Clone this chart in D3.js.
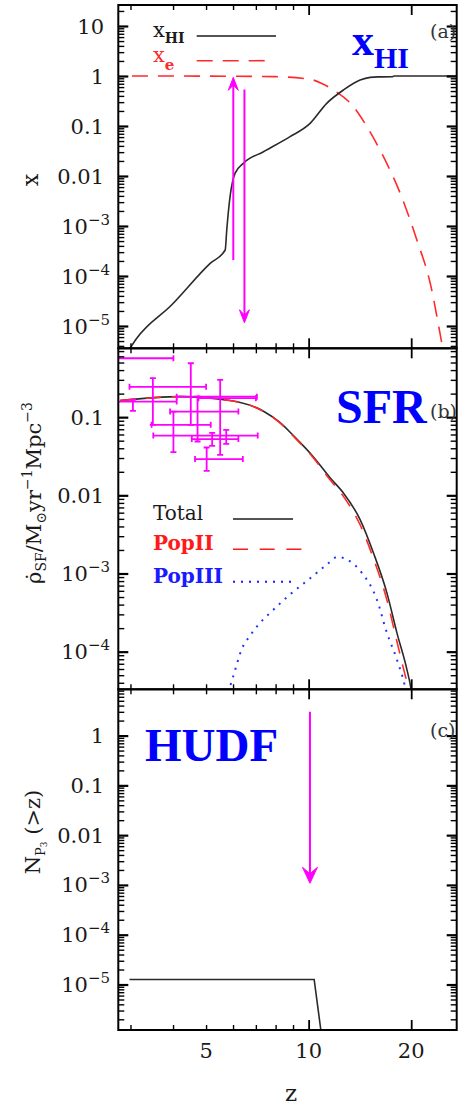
<!DOCTYPE html>
<html><head><meta charset="utf-8">
<script src="https://cdn.jsdelivr.net/npm/d3@7"></script>
<style>body{margin:0;background:#fff}svg{display:block}</style>
</head><body>
<svg id="chart" width="461" height="1105"></svg>
<script>
// ---------- shared x axis (redshift z, log) ----------
const zDomain = [2.763, 27.2];
const zMajorTicks = [10, 20];
const zMinorTicks = [3, 4, 5, 6, 7, 8, 9];
const zTickLabels = ["5", "10", "20"];
const zTickLabelValues = [5, 10, 20];

// ---------- panel (a): neutral fraction / ionized fraction ----------
const aDomain = [3.58e-6, 26.3];
const aTickValues = [10, 1, 0.1, 0.01, 1e-3, 1e-4, 1e-5];
const aTickLabels = ["10", "1", "0.1", "0.01", "10^−3", "10^−4", "10^−5"];
const xhiZ   = [2.99, 3.13, 3.96, 5.14, 5.69, 5.75, 5.88, 6.08, 6.43, 7.37, 8.82, 10.1, 11.3, 12.65, 14.16, 15.16, 16.0, 17.6, 17.8, 27.2];
const xhiVal = [3.58e-6, 5.68e-6, 2.63e-5, 1.79e-4, 3.31e-4, 8.3e-4, 3.85e-3, 0.0113, 0.0179, 0.0306, 0.0611, 0.113, 0.284, 0.525, 0.83, 0.94, 0.96, 0.965, 1.0, 1.0];
const xeZ   = [3.03, 6.0, 8.0, 10.1, 10.93, 11.83, 13.54, 14.83, 16.58, 18.57, 20.78, 22.75, 24.3, 25.3];
const xeVal = [1.0, 0.99, 0.97, 0.86, 0.71, 0.525, 0.243, 0.0968, 0.0243, 4.5e-3, 5.25e-4, 7.1e-5, 7.1e-6, 1.5e-6];
const aArrowZ    = [6.01, 6.48];
const aArrowFrom = [2.09e-4, 0.54];
const aArrowTo   = [0.94, 1.16e-5];

// ---------- panel (b): star formation rate density ----------
const bDomain = [3.3e-5, 0.76];
const bTickValues = [0.1, 0.01, 1e-3, 1e-4];
const bTickLabels = ["0.1", "0.01", "10^−3", "10^−4"];
const totalZ   = [2.795, 4.19, 5.88, 7.35, 8.25, 9.02, 10.33, 11.56, 12.65, 14.16, 15.5, 16.97, 18.16, 19.43, 19.96, 20.3];
const totalVal = [0.163, 0.183, 0.163, 0.12, 0.085, 0.058, 0.031, 0.0168, 0.0107, 0.0049, 1.83e-3, 5.65e-4, 1.74e-4, 5.9e-5, 3.4e-5, 2.0e-5];
const popIIZ   = [2.795, 4.19, 5.88, 7.35, 8.25, 9.02, 10.33, 11.56, 12.65, 14.16, 15.5, 16.97, 18.16, 19.2, 19.7, 20.1];
const popIIVal = [0.163, 0.183, 0.163, 0.119, 0.084, 0.057, 0.030, 0.0158, 0.0097, 0.0042, 1.55e-3, 4.6e-4, 1.35e-4, 5.0e-5, 3.3e-5, 2.0e-5];
const popIIIZ   = [5.8, 5.88, 6.01, 6.36, 6.73, 7.2, 7.71, 8.93, 10.0, 11.31, 12.15, 12.95, 14.33, 15.86, 16.97, 18.16, 19.2, 19.5];
const popIIIVal = [3.0e-5, 3.6e-5, 4.86e-5, 1.07e-4, 1.6e-4, 2.34e-4, 3.14e-4, 5.65e-4, 8.36e-4, 1.3e-3, 1.63e-3, 1.51e-3, 1.02e-3, 4.64e-4, 1.74e-4, 7.9e-5, 3.5e-5, 2.5e-5];
// observed SFR points with error bars
const obsZ    = [2.5, 3.49, 4.51, 3.05, 5.50, 4.72, 4.01, 5.73, 5.21, 5.02];
const obsZLo  = [2.0, 2.98, 4.10, 2.70, 4.75, 3.92, 3.46, 3.50, 4.54, 4.64];
const obsZHi  = [4.01, 5.0, 7.05, 4.10, 7.0, 6.22, 5.16, 7.09, 6.22, 6.41];
const obsVal  = [0.567, 0.244, 0.183, 0.158, 0.175, 0.118, 0.0797, 0.0582, 0.0524, 0.0291];
const obsLo   = [0.35, 0.0797, 0.0797, 0.12, 0.033, 0.0488, 0.0357, 0.0456, 0.043, 0.0206];
const obsHi   = [0.9, 0.315, 0.489, 0.166, 0.30, 0.183, 0.118, 0.0688, 0.063, 0.0409];

// ---------- panel (c): cumulative number of PopIII sources ----------
const cDomain = [1.22e-6, 8.5];
const cTickValues = [1, 0.1, 0.01, 1e-3, 1e-4, 1e-5];
const cTickLabels = ["1", "0.1", "0.01", "10^−3", "10^−4", "10^−5"];
const nZ   = [2.98, 10.38, 10.86, 10.95];
const nVal = [1.26e-5, 1.26e-5, 1.22e-6, 9e-7];
const cArrowZ    = [10.09];
const cArrowFrom = [3.02];
const cArrowTo   = [1.08e-3];

// ================= drawing =================
const svg = d3.select("#chart");
const L = 118.3, R = 456.7;
const x = d3.scaleLog().domain(zDomain).range([L, R]);
const numFont = "DejaVu Serif";
const MAG = "#ff00ff";

const panels = [
  {id: "a", top: 5, bottom: 348.3, domain: aDomain, tv: aTickValues, tl: aTickLabels},
  {id: "b", top: 348.3, bottom: 689.3, domain: bDomain, tv: bTickValues, tl: bTickLabels},
  {id: "c", top: 689.3, bottom: 1030, domain: cDomain, tv: cTickValues, tl: cTickLabels}
];
panels.forEach(p => {
  p.y = d3.scaleLog().domain(p.domain).range([p.bottom, p.top]);
  svg.append("clipPath").attr("id", "clip-" + p.id)
    .append("rect").attr("x", L).attr("y", p.top).attr("width", R - L).attr("height", p.bottom - p.top);
  p.g = svg.append("g").attr("clip-path", `url(#clip-${p.id})`);
});
const [pa, pb, pc] = panels;

function line(y) {
  return d3.line().x(d => x(d[0])).y(d => y(d[1])).curve(d3.curveMonotoneX);
}
const zip = (a, b) => a.map((v, i) => [v, b[i]]);

function arrow(g, y, z, from, to, hw, hl) {
  const px = x(z), y0 = y(from), y1 = y(to);
  const dir = y1 < y0 ? -1 : 1;
  g.append("line").attr("x1", px).attr("x2", px).attr("y1", y0).attr("y2", y1 - dir * hl * 0.5)
    .attr("stroke", MAG).attr("stroke-width", 2);
  g.append("path")
    .attr("d", `M${px},${y1} L${px - hw},${y1 - dir * hl} L${px},${y1 - dir * hl * 0.6} L${px + hw},${y1 - dir * hl} Z`)
    .attr("fill", MAG).attr("stroke", MAG).attr("stroke-width", 1);
}

// ---- panel a curves ----
pa.g.append("path").attr("d", line(pa.y)(zip(xeZ, xeVal)))
  .attr("fill", "none").attr("stroke", "#ff2a2a").attr("stroke-width", 1.6).attr("stroke-dasharray", "16,10");
pa.g.append("path").attr("d", line(pa.y)(zip(xhiZ, xhiVal)))
  .attr("fill", "none").attr("stroke", "#2a2a2a").attr("stroke-width", 1.6);
aArrowZ.forEach((z, i) => arrow(pa.g, pa.y, z, aArrowFrom[i], aArrowTo[i], 5, 13));

// ---- panel b curves ----
pb.g.append("path").attr("d", line(pb.y)(zip(popIIIZ, popIIIVal)))
  .attr("fill", "none").attr("stroke", "#2233ff").attr("stroke-width", 2).attr("stroke-dasharray", "2,6");
pb.g.append("path").attr("d", line(pb.y)(zip(totalZ, totalVal)))
  .attr("fill", "none").attr("stroke", "#2a2a2a").attr("stroke-width", 1.6);
pb.g.append("path").attr("d", line(pb.y)(zip(popIIZ, popIIVal)))
  .attr("fill", "none").attr("stroke", "#ff2a2a").attr("stroke-width", 1.6).attr("stroke-dasharray", "15,11");
// error bars
const eb = pb.g.append("g").attr("stroke", MAG).attr("stroke-width", 1.8);
obsZ.forEach((z, i) => {
  const cx = x(z), cy = pb.y(obsVal[i]);
  const xl = x(obsZLo[i]), xh = x(obsZHi[i]);
  const yl = pb.y(obsLo[i]), yh = pb.y(obsHi[i]);
  eb.append("line").attr("x1", xl).attr("x2", xh).attr("y1", cy).attr("y2", cy);
  eb.append("line").attr("x1", cx).attr("x2", cx).attr("y1", yl).attr("y2", yh);
  eb.append("line").attr("x1", xl).attr("x2", xl).attr("y1", cy - 3).attr("y2", cy + 3);
  eb.append("line").attr("x1", xh).attr("x2", xh).attr("y1", cy - 3).attr("y2", cy + 3);
  eb.append("line").attr("x1", cx - 3).attr("x2", cx + 3).attr("y1", yl).attr("y2", yl);
  eb.append("line").attr("x1", cx - 3).attr("x2", cx + 3).attr("y1", yh).attr("y2", yh);
});

// ---- panel c ----
pc.g.append("path").attr("d", d3.line().x(d => x(d[0])).y(d => pc.y(d[1]))(zip(nZ, nVal)))
  .attr("fill", "none").attr("stroke", "#2a2a2a").attr("stroke-width", 1.6);
cArrowZ.forEach((z, i) => arrow(pc.g, pc.y, z, cArrowFrom[i], cArrowTo[i], 7.5, 16));

// ---- axes, frames, tick labels ----
panels.forEach(p => {
  const minors = p.y.ticks().filter(v => Math.abs(Math.log10(v) - Math.round(Math.log10(v))) > 1e-6);
  const majors = p.y.ticks().filter(v => Math.abs(Math.log10(v) - Math.round(Math.log10(v))) <= 1e-6);
  const mk = (gen, vals, size, tx, ty, sw) => {
    const g = svg.append("g").attr("transform", `translate(${tx},${ty})`)
      .call(gen.tickValues(vals).tickSizeInner(-size).tickSizeOuter(0).tickFormat(""));
    g.select(".domain").remove();
    g.selectAll("line").attr("stroke", "#000").attr("stroke-width", sw);
  };
  mk(d3.axisLeft(p.y), minors, 6, L, 0, 1.4);
  mk(d3.axisLeft(p.y), majors, 10, L, 0, 2.2);
  mk(d3.axisRight(p.y), minors, 6, R, 0, 1.4);
  mk(d3.axisRight(p.y), majors, 10, R, 0, 2.2);
  mk(d3.axisBottom(x), zMinorTicks, 5, 0, p.bottom, 1.4);
  mk(d3.axisBottom(x), zMajorTicks, 10, 0, p.bottom, 1.8);
  mk(d3.axisTop(x), zMinorTicks, 5, 0, p.top, 1.4);
  mk(d3.axisTop(x), zMajorTicks, 10, 0, p.top, 1.8);
  svg.append("rect").attr("x", L).attr("y", p.top).attr("width", R - L).attr("height", p.bottom - p.top)
    .attr("fill", "none").attr("stroke", "#000").attr("stroke-width", 2);

  p.tv.forEach((v, i) => {
    const lab = p.tl[i];
    const yy = p.y(v);
    const t = svg.append("text").attr("font-family", numFont).attr("font-size", 21).attr("fill", "#1a1a1a")
      .attr("text-anchor", "end").attr("y", yy).attr("dy", "0.36em");
    if (lab.includes("^")) {
      const [b, e] = lab.split("^");
      t.attr("x", 110);
      t.append("tspan").text(b);
      t.append("tspan").attr("font-size", 15).attr("dy", -9).text(e);
    } else {
      t.attr("x", 104).text(lab);
    }
  });
});

// x tick labels (bottom panel)
zTickLabelValues.forEach((v, i) => {
  svg.append("text").attr("x", x(v)).attr("y", 1058).attr("text-anchor", "middle")
    .attr("font-family", numFont).attr("font-size", 21).attr("fill", "#1a1a1a").text(zTickLabels[i]);
});
svg.append("text").attr("x", 291).attr("y", 1101).attr("text-anchor", "middle")
  .attr("font-family", numFont).attr("font-size", 23).attr("fill", "#1a1a1a").text("z");

// y titles
svg.append("text").attr("transform", "translate(38,180) rotate(-90)").attr("text-anchor", "middle")
  .attr("font-family", numFont).attr("font-size", 22).attr("fill", "#1a1a1a").text("x");
(function () {
  const t = svg.append("text").attr("transform", "translate(41,493) rotate(-90)").attr("text-anchor", "middle")
    .attr("font-family", numFont).attr("font-size", 21).attr("fill", "#1a1a1a");
  t.append("tspan").text("\u03C1\u0307");
  t.append("tspan").attr("font-size", 14).attr("dy", 5).text("SF");
  t.append("tspan").attr("dy", -5).text("/M");
  t.append("tspan").attr("font-size", 14).attr("dy", 5).text("\u2299");
  t.append("tspan").attr("dy", -5).text("yr");
  t.append("tspan").attr("font-size", 14).attr("dy", -9).text("\u22121");
  t.append("tspan").attr("dy", 9).text("Mpc");
  t.append("tspan").attr("font-size", 14).attr("dy", -9).text("\u22123");
})();
(function () {
  const t = svg.append("text").attr("transform", "translate(40,832) rotate(-90)").attr("text-anchor", "middle")
    .attr("font-family", numFont).attr("font-size", 21).attr("fill", "#1a1a1a");
  t.append("tspan").text("N");
  t.append("tspan").attr("font-size", 13).attr("dy", 5).text("P");
  t.append("tspan").attr("font-size", 9).attr("dy", 2).text("3");
  t.append("tspan").attr("dy", -7).text(" (>z)");
})();

// panel tags
[["(a)", 38], ["(b)", 418], ["(c)", 737]].forEach(([s, yy]) => {
  svg.append("text").attr("x", 430).attr("y", yy).attr("font-family", numFont).attr("font-size", 19)
    .attr("fill", "#333").text(s);
});

// legends panel a
(function () {
  const t = svg.append("text").attr("x", 153).attr("y", 37).attr("font-family", numFont).attr("font-size", 21).attr("fill", "#1a1a1a");
  t.append("tspan").text("x");
  t.append("tspan").attr("font-size", 14).attr("font-weight", "bold").attr("dy", 6).text("HI");
  svg.append("line").attr("x1", 196.7).attr("x2", 276).attr("y1", 36).attr("y2", 36).attr("stroke", "#1a1a1a").attr("stroke-width", 1.6);
  const t2 = svg.append("text").attr("x", 153).attr("y", 62).attr("font-family", numFont).attr("font-size", 21).attr("fill", "#ff2a2a");
  t2.append("tspan").text("x");
  t2.append("tspan").attr("font-size", 15).attr("font-weight", "bold").attr("dy", 8).text("e");
  svg.append("line").attr("x1", 196.7).attr("x2", 265).attr("y1", 60.7).attr("y2", 60.7).attr("stroke", "#ff2a2a")
    .attr("stroke-width", 1.6).attr("stroke-dasharray", "16,10");
})();

// legends panel b
(function () {
  const items = [["Total", "#1a1a1a", 519, null, "normal"], ["PopII", "#ff1a1a", 549.3, "15,11.7", "bold"], ["PopIII", "#1a1aff", 581.7, "2,6", "bold"]];
  items.forEach(([s, c, yy, dash, fw]) => {
    svg.append("text").attr("x", 153).attr("y", yy + 1).attr("font-family", numFont).attr("font-size", 20)
      .attr("font-weight", fw).attr("fill", c).text(s);
    const l = svg.append("line").attr("x1", 233).attr("x2", dash === "15,11.7" ? 302 : 293).attr("y1", yy).attr("y2", yy)
      .attr("stroke", c).attr("stroke-width", dash === "2,6" ? 2 : 1.6);
    if (dash) l.attr("stroke-dasharray", dash);
  });
})();

// big blue annotations
(function () {
  const t = svg.append("text").attr("x", 352).attr("y", 55).attr("font-family", "Liberation Serif")
    .attr("font-weight", "bold").attr("font-size", 44).attr("fill", "#0000ff");
  t.append("tspan").text("x");
  t.append("tspan").attr("font-size", 30).attr("dy", 13).text("HI");
  svg.append("text").attr("x", 336).attr("y", 423).attr("font-family", "Liberation Serif")
    .attr("font-weight", "bold").attr("font-size", 48).attr("fill", "#0000ff").text("SFR");
  svg.append("text").attr("x", 145).attr("y", 761).attr("font-family", "Liberation Serif")
    .attr("font-weight", "bold").attr("font-size", 47).attr("fill", "#0000ff").text("HUDF");
})();
</script>
</body></html>
